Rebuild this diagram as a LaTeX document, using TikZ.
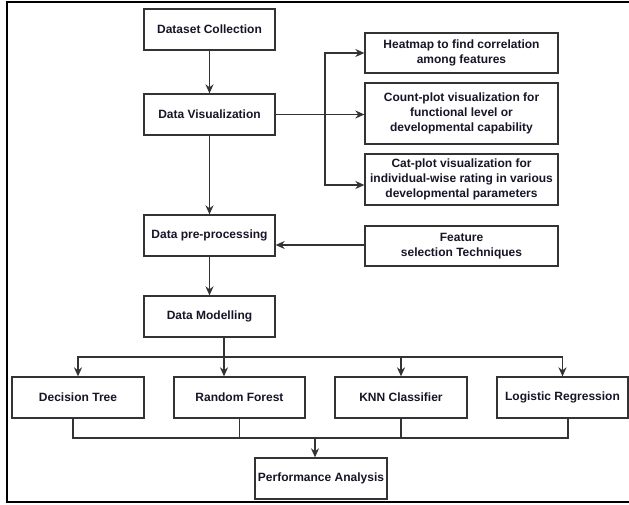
\documentclass[tikz,border=0pt]{standalone}
\usepackage{fontspec}
\setmainfont{Liberation Sans}
\usetikzlibrary{arrows.meta,calc}
\definecolor{txt}{HTML}{161628}
\definecolor{ln}{HTML}{333333}
\begin{document}
\begin{tikzpicture}[x=1pt,y=-1pt,
  box/.style={draw=ln,line width=1.3pt,fill=white,align=center,inner sep=0pt,
    text=txt,font=\fontsize{12}{15}\selectfont\bfseries,minimum height=41pt},
  conn/.style={draw=ln,line width=1.3pt},
  arr/.style={conn,-{Stealth[length=9pt,width=8pt]}}]
\useasboundingbox (0,0) rectangle (629,504);
\fill[white] (0,0) rectangle (629,504);
\draw[line width=2.2pt,black] (640,2) -- (7,2) -- (7,502) -- (640,502);

\node[box,minimum width=131pt] (ds) at (209.5,29.5) {Dataset Collection};
\node[box,minimum width=131pt] (dv) at (209.5,114.5) {Data Visualization};
\node[box,minimum width=131pt] (dp) at (209.5,235.5) {Data pre-processing};
\node[box,minimum width=131pt] (dm) at (209.5,316.5) {Data Modelling};

\node[box,minimum width=193pt,minimum height=40pt] (hm) at (461.5,53) {Heatmap to find correlation\\among features};
\node[box,minimum width=193pt,minimum height=61pt] (cp) at (461.5,113.5) {Count-plot visualization for\\functional level or\\developmental capability};
\node[box,minimum width=193pt,minimum height=51pt] (cat) at (461.5,179.5) {Cat-plot visualization for\\individual-wise rating in various\\developmental parameters};
\node[box,minimum width=193pt,minimum height=40pt] (fs) at (461.5,246) {Feature\\selection Techniques};

\node[box,minimum width=132pt] (dt) at (78,397.5) {Decision Tree};
\node[box,minimum width=131pt] (rf) at (239.5,397.5) {Random Forest};
\node[box,minimum width=132pt] (knn) at (401,397.5) {KNN Classifier};
\node[box,minimum width=131pt] (lr) at (562.5,397.5) {Logistic Regression};
\node[box,minimum width=132pt] (pa) at (321,478.5) {Performance Analysis};

\coordinate (vb) at (325,114.5);
\coordinate (mb) at (224,357);
\coordinate (pb) at (315,438);

\draw[arr] (ds) -- (dv);
\draw[arr] (dv) -- (dp);
\draw[arr] (dp) -- (dm);

\draw[conn] (dv.east) -- (vb);
\draw[arr] (vb) |- (hm.west);
\draw[arr] (vb) -- (vb -| cp.west);
\draw[arr] (vb) |- (cat.west|-0,185);

\draw[arr] (fs.west|-0,245) -- (dp.east|-0,245);

\draw[arr] (dm.south -| mb) -- (rf.north -| mb);
\draw[arr] (mb) -| (dt.north);
\draw[arr] (mb) -| (knn.north);
\draw[arr] (mb) -| (lr.north);

\draw[conn] (dt.south -| 73,0) -- (73,438) -- (568,438) -- (lr.south -| 568,0);
\draw[conn] (rf.south) -- (rf.south |- pb);
\draw[conn] (knn.south) -- (knn.south |- pb);
\draw[arr] (pb) -- (pa.north -| pb);
\end{tikzpicture}
\end{document}
